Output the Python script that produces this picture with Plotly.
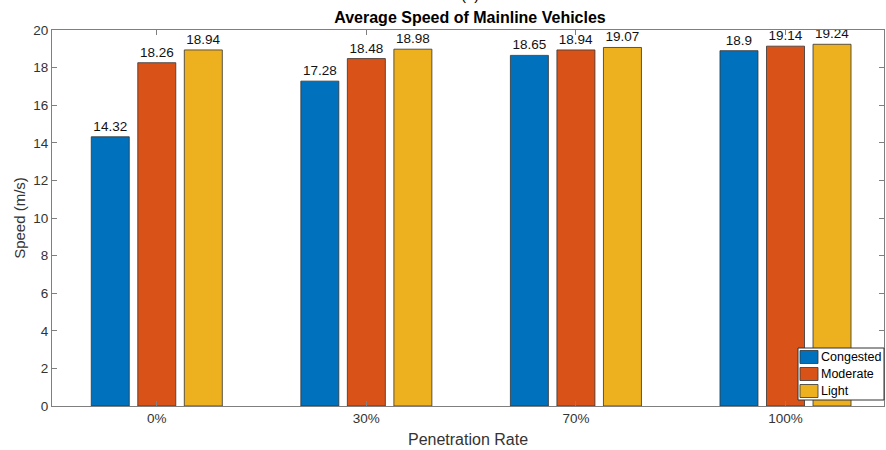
import plotly.graph_objects as go

categories = ["0%", "30%", "70%", "100%"]
congested = [14.32, 17.28, 18.65, 18.9]
moderate = [18.26, 18.48, 18.94, 19.14]
light = [18.94, 18.98, 19.07, 19.24]
series_names = ["Congested", "Moderate", "Light"]
colors = ["#0072BD", "#D95319", "#EDB120"]
yticks = list(range(0, 21, 2))

FONT = "Liberation Sans, Arial, Helvetica, sans-serif"

# plot area in pixels
L, R, T, B = 52, 884, 30, 406
W, H = R - L, B - T


def px(x):
    return (x - L) / W


def py(y):
    return (B - y) / H


fig = go.Figure()
for name, vals, col in zip(series_names, [congested, moderate, light], colors):
    fig.add_trace(go.Bar(
        x=categories, y=vals, name=name,
        marker=dict(color=col, line=dict(color="#333333", width=0.8)),
        text=[f"{v:g}" for v in vals], textposition="outside",
        textfont=dict(family=FONT, size=13.5, color="#111111"),
        cliponaxis=False, showlegend=False,
    ))

shapes = [dict(type="rect", xref="paper", yref="paper",
               x0=px(798), x1=px(884), y0=py(400), y1=py(348),
               line=dict(color="#333333", width=1), fillcolor="white", layer="above")]
annotations = []
for i, (name, col) in enumerate(zip(series_names, colors)):
    cy = 357 + i * 17
    shapes.append(dict(type="rect", xref="paper", yref="paper",
                       x0=px(800), x1=px(818), y0=py(cy + 6.5), y1=py(cy - 6.5),
                       line=dict(color="#333333", width=0.8), fillcolor=col, layer="above"))
    annotations.append(dict(text=name, xref="paper", yref="paper", x=px(818.5), y=py(cy),
                            xanchor="left", yanchor="middle", showarrow=False,
                            font=dict(family=FONT, size=12.5, color="#000000")))

annotations.append(dict(text="(a)", xref="paper", yref="paper", x=px(470), y=py(5),
                        yanchor="bottom", showarrow=False,
                        font=dict(family=FONT, size=15, color="#000000")))

fig.update_layout(
    width=886, height=450,
    margin=dict(l=L, r=886 - R, t=T, b=450 - B),
    paper_bgcolor="white", plot_bgcolor="white",
    barmode="group", bargap=0.334, bargroupgap=0.183,
    font=dict(family=FONT, size=13, color="#262626"),
    title=dict(text="<b>Average Speed of Mainline Vehicles</b>",
               x=470 / 886, xanchor="center", y=1 - 17 / 450, yanchor="middle",
               font=dict(family=FONT, size=16, color="#000000")),
    showlegend=False,
    xaxis=dict(
        range=[-0.5, 3.47], showgrid=False, showline=True, linecolor="#7f7f7f",
        linewidth=1, mirror="ticks", ticks="inside", ticklen=5, tickcolor="#7f7f7f",
        tickfont=dict(family=FONT, size=13.5, color="#333333"), automargin=False,
        title=dict(text="Penetration Rate", font=dict(family=FONT, size=16, color="#333333"), standoff=8),
    ),
    yaxis=dict(
        range=[0, 20], tickvals=yticks, showgrid=False, zeroline=False, showline=True,
        linecolor="#7f7f7f", linewidth=1, mirror="ticks", ticks="inside", ticklen=5,
        tickcolor="#7f7f7f", automargin=False,
        tickfont=dict(family=FONT, size=13.5, color="#333333"),
        title=dict(text="Speed (m/s)", font=dict(family=FONT, size=15, color="#333333"), standoff=4),
    ),
    shapes=shapes,
    annotations=annotations,
)

fig.write_html("out.html", config={"displayModeBar": False},
               post_script="document.body.style.margin='0';document.body.style.overflow='hidden';")
